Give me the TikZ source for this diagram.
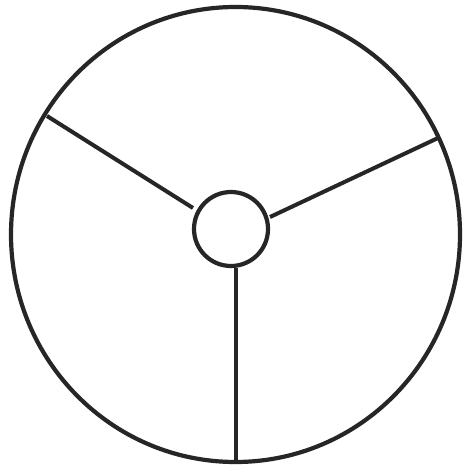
\documentclass[tikz,border=0pt]{standalone}
\begin{document}
\begin{tikzpicture}[x=1pt,y=-1pt,
  ring/.style={draw=black!85,line width=4.2pt},
  spoke/.style={draw=black!85,line width=4pt}]
\useasboundingbox (0,0) rectangle (470,470);
\fill[white] (0,0) rectangle (470,470);
\coordinate (c) at (235.5,234.5);
\coordinate (h) at (231,229);
\coordinate (a1) at (193,208);
\coordinate (a2) at (47,116);
\coordinate (b1) at (270,217);
\coordinate (b2) at (438,138);
\coordinate (d1) at (236,268);
\coordinate (d2) at (236,462);
\draw[ring] (c) ellipse [x radius=224.5, y radius=227.5];
\draw[ring] (h) circle [radius=37];
\draw[spoke] (a1) -- (a2);
\draw[spoke] (b1) -- (b2);
\draw[spoke] (d1) -- (d2);
\end{tikzpicture}
\end{document}
